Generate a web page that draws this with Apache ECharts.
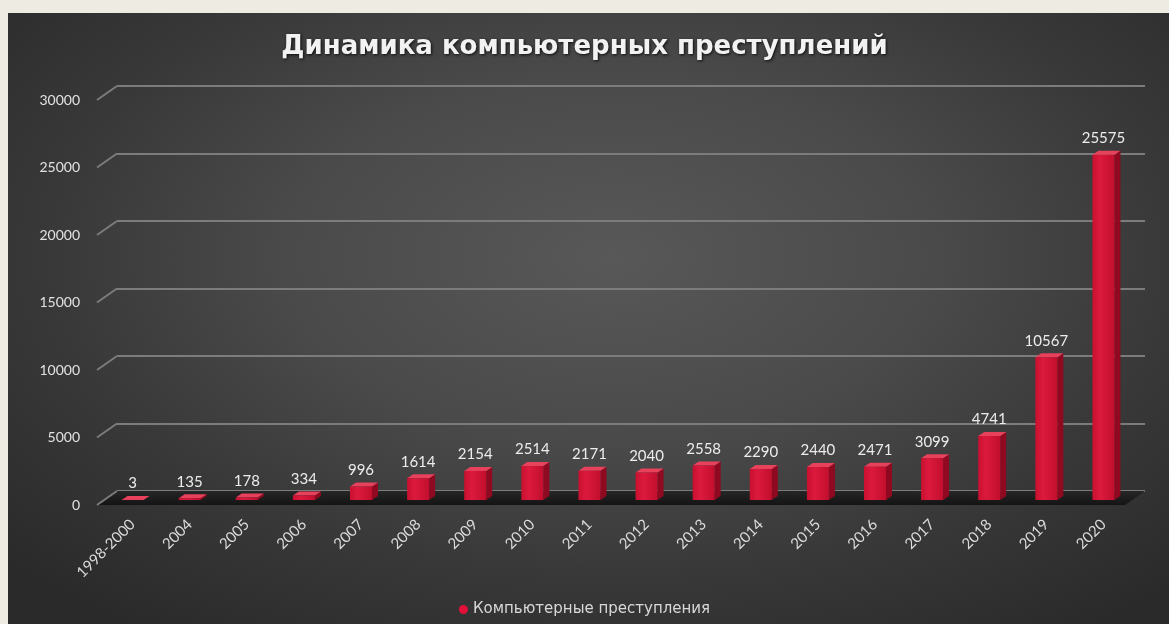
<!DOCTYPE html>
<html>
<head>
<meta charset="utf-8">
<script src="https://cdn.jsdelivr.net/npm/echarts@6/dist/echarts.min.js"></script>
<style>
  html, body { margin:0; padding:0; width:1169px; height:624px; overflow:hidden; background:#eeebe3; }
  #panel { position:absolute; left:8px; top:13px; width:1161px; height:611px;
    background: radial-gradient(ellipse 70% 75% at 52% 40%, #585858 0%, #4a4a4a 40%, #383838 70%, #2a2a2a 100%); }
  #chart { position:absolute; left:0; top:0; width:1169px; height:624px; }
</style>
</head>
<body>
<div id="panel"></div>
<div id="chart"></div>
<script>
const titleText = 'Динамика компьютерных преступлений';
const seriesName = 'Компьютерные преступления';
const categories = ['1998-2000','2004','2005','2006','2007','2008','2009','2010','2011','2012','2013','2014','2015','2016','2017','2018','2019','2020'];
const values = [3,135,178,334,996,1614,2154,2514,2171,2040,2558,2290,2440,2471,3099,4741,10567,25575];
const yTicks = [0,5000,10000,15000,20000,25000,30000];

const DX = -20, DY = 14;   // perspective offset of front plane
const HALF = 11, SIDE = 6, RISE = 4;

const chart = echarts.init(document.getElementById('chart'), null, {renderer:'canvas'});

const option = {
  backgroundColor: 'transparent',
  animation: false,
  title: {
    text: titleText,
    left: 'center',
    top: 29,
    textStyle: {
      color: '#f2f2f2', fontSize: 26, fontWeight: 'bold', fontFamily: 'DejaVu Sans',
      textShadowColor: 'rgba(0,0,0,0.8)', textShadowBlur: 3, textShadowOffsetX: 1, textShadowOffsetY: 1
    }
  },
  legend: {
    bottom: 2,
    left: 'center',
    icon: 'circle',
    itemWidth: 9, itemHeight: 9, itemGap: 3,
    textStyle: { color: '#d8d8d8', fontSize: 15, fontFamily: 'DejaVu Sans' },
    data: [{ name: seriesName, itemStyle: { color: '#e0103a' } }]
  },
  grid: [
    { left: 117, right: 24, top: 86, bottom: 133 },
    { left: 104, right: 37, top: 95, bottom: 124 },
    { left: 97, right: 44, top: 100, bottom: 119 }
  ],
  xAxis: [
    { type: 'category', gridIndex: 0, data: categories, show: false },
    { type: 'category', gridIndex: 1, data: categories,
      axisLine: { show: false }, axisTick: { show: false },
      axisLabel: { rotate: 45, margin: 22, interval: 0, color: '#dcdcdc', fontSize: 15, fontFamily: 'Lato' } },
    { type: 'category', gridIndex: 2, data: categories, show: false }
  ],
  yAxis: [
    { type: 'value', gridIndex: 0, min: 0, max: 30000, interval: 5000,
      axisLine: { show: false }, axisTick: { show: false }, axisLabel: { show: false },
      splitLine: { lineStyle: { color: '#7c7c7c', width: 2 } } },
    { type: 'value', gridIndex: 1, min: 0, max: 30000, interval: 5000, show: false, splitLine: { show: false } },
    { type: 'value', gridIndex: 2, min: 0, max: 30000, interval: 5000,
      axisLine: { show: false }, axisTick: { show: false }, splitLine: { show: false },
      axisLabel: { margin: 17, color: '#e2e2e2', fontSize: 14, fontFamily: 'Lato', formatter: v => String(v) } }
  ],
  series: [
    {
      name: 'decor', type: 'custom', xAxisIndex: 0, yAxisIndex: 0, silent: true, clip: false, z: 1,
      data: yTicks.map(v => [0, v]),
      renderItem: function (params, api) {
        const cs = params.coordSys;
        const v = api.value(1);
        const y = api.coord([0, v])[1];
        const children = [{
          type: 'line',
          shape: { x1: cs.x, y1: y, x2: cs.x + DX, y2: y + DY },
          style: { stroke: '#7c7c7c', lineWidth: 2 }
        }];
        if (v === 0) {
          children.unshift({
            type: 'polygon',
            shape: { points: [[cs.x, y], [cs.x + cs.width, y], [cs.x + cs.width + DX, y + DY], [cs.x + DX, y + DY]] },
            style: { fill: new echarts.graphic.LinearGradient(0, 0, 0, 1, [
              { offset: 0, color: '#262626' }, { offset: 1, color: '#141414' }]) }
          });
        }
        return { type: 'group', children: children };
      }
    },
    {
      name: seriesName, type: 'bar', xAxisIndex: 1, yAxisIndex: 1, barWidth: 2 * HALF, z: 3,
      data: values,
      itemStyle: {
        color: new echarts.graphic.LinearGradient(0, 0, 1, 0, [
          { offset: 0, color: '#c9102f' }, { offset: 0.35, color: '#dc1a3e' }, { offset: 1, color: '#c20e2d' }])
      },
      label: { show: true, position: 'top', distance: 9, color: '#ececec', fontSize: 15, fontFamily: 'Lato' }
    },
    {
      name: 'faces', type: 'custom', xAxisIndex: 1, yAxisIndex: 1, silent: true, clip: false, z: 2,
      data: values.map((v, i) => [i, v]),
      renderItem: function (params, api) {
        const top = api.coord([api.value(0), api.value(1)]);
        const base = api.coord([api.value(0), 0]);
        const xr = top[0] + HALF, xl = top[0] - HALF;
        return { type: 'group', children: [
          { type: 'polygon',
            shape: { points: [[xr, top[1]], [xr + SIDE, top[1] - RISE], [xr + SIDE, base[1] - RISE], [xr, base[1]]] },
            style: { fill: '#8f0a21' } },
          { type: 'polygon',
            shape: { points: [[xl, top[1]], [xl + SIDE, top[1] - RISE], [xr + SIDE, top[1] - RISE], [xr, top[1]]] },
            style: { fill: '#e8415c' } }
        ] };
      }
    }
  ]
};
chart.setOption(option);
</script>
</body>
</html>
